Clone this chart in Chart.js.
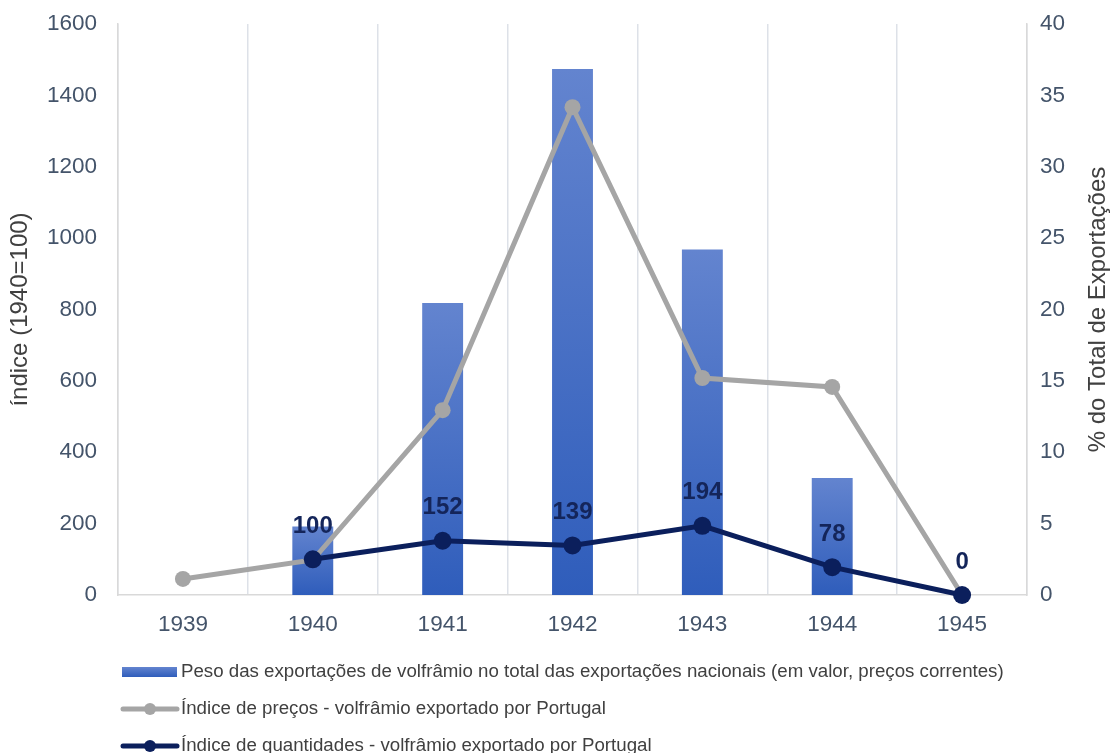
<!DOCTYPE html>
<html>
<head>
<meta charset="utf-8">
<script src="https://cdn.jsdelivr.net/npm/chart.js@4.4.1/dist/chart.umd.min.js"></script>
<style>
  html, body { margin: 0; padding: 0; background: #ffffff; }
  #wrap { width: 1110px; height: 753px; position: relative; }
</style>
</head>
<body>
<div id="wrap"><canvas id="c" width="1110" height="753"></canvas></div>
<script>
const categories = ['1939', '1940', '1941', '1942', '1943', '1944', '1945'];
const pesoExportacoes = [null, 4.8, 20.45, 36.85, 24.2, 8.2, null];
const indicePrecos = [45, 98, 518, 1367, 608, 583, 0];
const indiceQuantidades = [null, 100, 152, 139, 194, 78, 0];
const leftTicks = [0, 200, 400, 600, 800, 1000, 1200, 1400, 1600];
const rightTicks = [0, 5, 10, 15, 20, 25, 30, 35, 40];

const seriesNames = [
  'Peso das exportações de volfrâmio no total das exportações nacionais (em valor, preços correntes)',
  'Índice de preços - volfrâmio exportado por Portugal',
  'Índice de quantidades - volfrâmio exportado por Portugal'
];
const leftTitle = 'índice (1940=100)';
const rightTitle = '% do Total de Exportações';

const FONT = "'Liberation Sans', Arial, sans-serif";
const TICK_COLOR = '#44546a';
const NAVY = '#0b1f5c';
const GRAY = '#a5a5a5';
const BAR_TOP = '#6384cf';
const BAR_BOT = '#2f5dbb';
const TICK_SIZE = 22.5;

function barGradient(ctx) {
  const chart = ctx.chart;
  const area = chart.chartArea;
  if (!area || ctx.raw == null) return BAR_BOT;
  const y2 = chart.scales.y2;
  const top = y2.getPixelForValue(ctx.raw);
  const bot = y2.getPixelForValue(0);
  const g = chart.ctx.createLinearGradient(0, top, 0, bot);
  g.addColorStop(0, BAR_TOP);
  g.addColorStop(1, BAR_BOT);
  return g;
}

const labelPlugin = {
  id: 'navyLabels',
  afterDatasetsDraw(chart) {
    const ctx = chart.ctx;
    const meta = chart.getDatasetMeta(2);
    ctx.save();
    ctx.font = 'bold 24px ' + FONT;
    ctx.fillStyle = '#14255a';
    ctx.textAlign = 'center';
    ctx.textBaseline = 'middle';
    meta.data.forEach((pt, i) => {
      const v = indiceQuantidades[i];
      if (v == null) return;
      ctx.fillText(String(v), pt.x, pt.y - 33);
    });
    ctx.restore();
  }
};

const decorPlugin = {
  id: 'decor',
  afterDraw(chart) {
    const ctx = chart.ctx;
    const area = chart.chartArea;
    const cy = (area.top + area.bottom) / 2;
    ctx.save();
    ctx.font = '24px ' + FONT;
    ctx.fillStyle = '#404040';
    ctx.textAlign = 'center';
    ctx.textBaseline = 'middle';
    ctx.save();
    ctx.translate(20, cy);
    ctx.rotate(-Math.PI / 2);
    ctx.fillText(leftTitle, 0, 0);
    ctx.restore();
    ctx.save();
    ctx.translate(1098, cy);
    ctx.rotate(-Math.PI / 2);
    ctx.fillText(rightTitle, 0, 0);
    ctx.restore();

    ctx.font = '18.7px ' + FONT;
    ctx.fillStyle = '#404040';
    ctx.textAlign = 'left';
    ctx.textBaseline = 'middle';
    const lx = 122, tx = 181;
    const ys = [672, 709, 746];
    const g = ctx.createLinearGradient(0, ys[0] - 5, 0, ys[0] + 5);
    g.addColorStop(0, BAR_TOP);
    g.addColorStop(1, BAR_BOT);
    ctx.fillStyle = g;
    ctx.fillRect(lx, ys[0] - 5, 55, 10);
    ctx.fillStyle = '#404040';
    ctx.fillText(seriesNames[0], tx, ys[0]);
    [[GRAY, ys[1], seriesNames[1]], [NAVY, ys[2], seriesNames[2]]].forEach(([col, y, name]) => {
      ctx.strokeStyle = col;
      ctx.lineWidth = 5;
      ctx.lineCap = 'round';
      ctx.beginPath();
      ctx.moveTo(lx + 1, y);
      ctx.lineTo(lx + 55, y);
      ctx.stroke();
      ctx.fillStyle = col;
      ctx.beginPath();
      ctx.arc(lx + 28, y, 6, 0, Math.PI * 2);
      ctx.fill();
      ctx.fillStyle = '#404040';
      ctx.fillText(name, tx, y);
    });
    ctx.restore();
  }
};

const plainTick = v => String(v);

new Chart(document.getElementById('c'), {
  data: {
    labels: categories,
    datasets: [
      {
        type: 'bar',
        label: seriesNames[0],
        data: pesoExportacoes,
        yAxisID: 'y2',
        backgroundColor: barGradient,
        borderWidth: 0,
        barPercentage: 0.315,
        categoryPercentage: 1.0,
        order: 3
      },
      {
        type: 'line',
        label: seriesNames[1],
        data: indicePrecos,
        yAxisID: 'y',
        borderColor: GRAY,
        backgroundColor: GRAY,
        borderWidth: 5,
        pointRadius: 8,
        pointBorderWidth: 0,
        pointBackgroundColor: GRAY,
        tension: 0,
        clip: false,
        order: 2
      },
      {
        type: 'line',
        label: seriesNames[2],
        data: indiceQuantidades,
        yAxisID: 'y',
        borderColor: NAVY,
        backgroundColor: NAVY,
        borderWidth: 5,
        pointRadius: 9,
        pointBorderWidth: 0,
        pointBackgroundColor: NAVY,
        tension: 0,
        clip: false,
        order: 1
      }
    ]
  },
  options: {
    responsive: false,
    animation: false,
    devicePixelRatio: 1,
    layout: { padding: { top: 24, bottom: 118, left: 0, right: 0 } },
    plugins: {
      legend: { display: false },
      tooltip: { enabled: false }
    },
    scales: {
      x: {
        offset: true,
        grid: { display: true, offset: true, color: '#dde1e8', lineWidth: 1.5, drawTicks: false },
        border: { display: true, color: '#d9d9d9', width: 1.5 },
        ticks: { color: TICK_COLOR, font: { family: FONT, size: TICK_SIZE }, padding: 16 },
        afterFit(s) { s.height = 40; s.paddingLeft = 0; s.paddingRight = 0; }
      },
      y: {
        position: 'left',
        min: 0, max: 1600,
        afterBuildTicks(s) { s.ticks = leftTicks.map(v => ({ value: v })); },
        grid: { display: false, drawTicks: false },
        border: { display: true, color: '#d9d9d9', width: 1.5 },
        ticks: { color: TICK_COLOR, font: { family: FONT, size: TICK_SIZE }, padding: 21, callback: plainTick },
        afterFit(s) { s.width = 118; s.paddingTop = 0; s.paddingBottom = 0; }
      },
      y2: {
        position: 'right',
        min: 0, max: 40,
        afterBuildTicks(s) { s.ticks = rightTicks.map(v => ({ value: v })); },
        grid: { display: false, drawTicks: false },
        border: { display: true, color: '#d9d9d9', width: 1.5 },
        ticks: { color: TICK_COLOR, font: { family: FONT, size: TICK_SIZE }, padding: 13, callback: plainTick },
        afterFit(s) { s.width = 83; s.paddingTop = 0; s.paddingBottom = 0; }
      }
    }
  },
  plugins: [labelPlugin, decorPlugin]
});
</script>
</body>
</html>
